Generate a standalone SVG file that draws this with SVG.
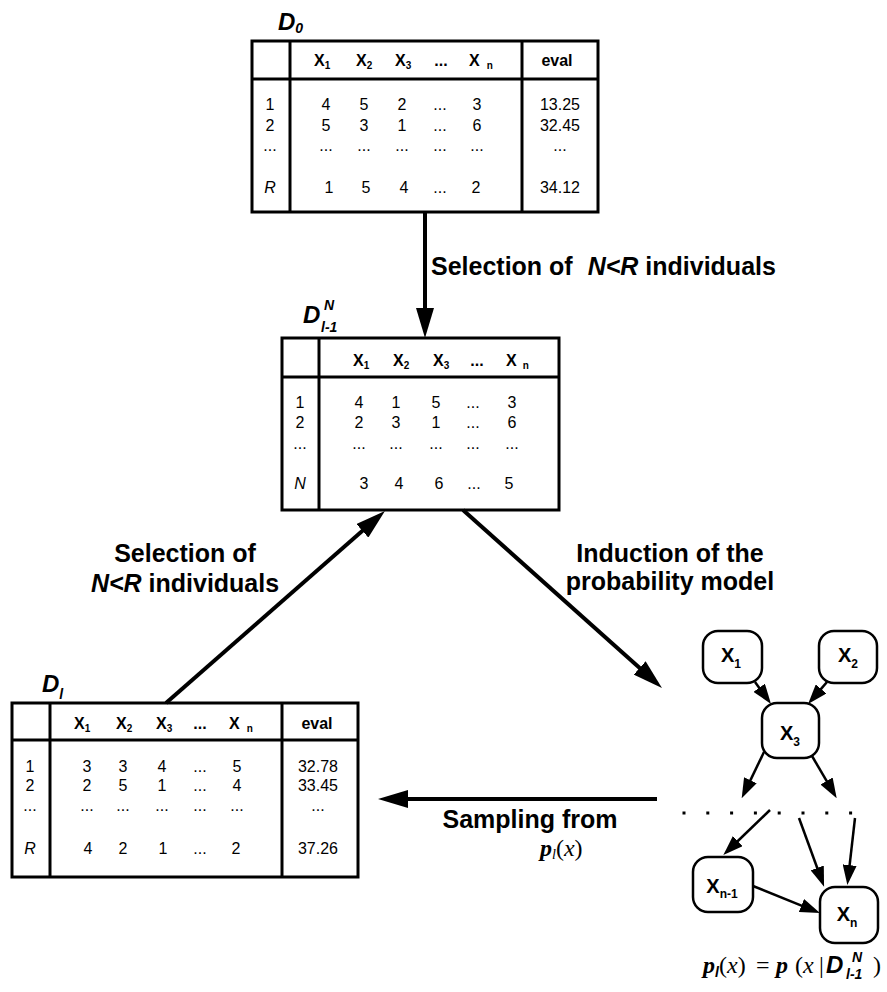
<svg xmlns="http://www.w3.org/2000/svg" width="887" height="992" viewBox="0 0 887 992">
<style>
.frame{fill:#fff;stroke:#000;stroke-width:3}
.rule{stroke:#000;stroke-width:3;fill:none}
.hx{font-family:"Liberation Sans",Arial,sans-serif;font-weight:bold;font-size:16px}
.sub{font-size:10px}
.c{font-family:"Liberation Sans",Arial,sans-serif;font-size:16px;text-anchor:middle}
.hd{font-family:"Liberation Sans",Arial,sans-serif;font-weight:bold;font-size:16px;text-anchor:middle}
.it{font-style:italic}
.big{font-family:"Liberation Sans",Arial,sans-serif;font-weight:bold;font-size:25px}
.mid{text-anchor:middle}
.dl{font-family:"Liberation Sans",Arial,sans-serif;font-weight:bold;font-style:italic;font-size:24px}
.dls{font-size:14px}
.conn{stroke:#000;stroke-width:4;fill:none}
.thin{stroke:#000;stroke-width:2.5;fill:none}
.node{fill:#fff;stroke:#000;stroke-width:2.5}
.nx{font-family:"Liberation Sans",Arial,sans-serif;font-weight:bold;font-size:20px;text-anchor:middle}
.nsub{font-size:12px}
.math{font-family:"Liberation Serif","Times New Roman",serif;font-size:24px}
.bp{font-weight:bold;font-style:italic}
.sd{font-family:"Liberation Sans",Arial,sans-serif;font-weight:bold;font-style:italic}
</style>
<defs>
<marker id="big" viewBox="0 0 30 18" refX="2" refY="9" markerWidth="30" markerHeight="18" markerUnits="userSpaceOnUse" orient="auto">
<path d="M0,0 L30,9 L0,18 z" fill="#000"/>
</marker>
<marker id="small" viewBox="0 0 20 14" refX="2" refY="7" markerWidth="20" markerHeight="14" markerUnits="userSpaceOnUse" orient="auto">
<path d="M0,0 L20,7 L0,14 z" fill="#000"/>
</marker>
</defs>
<rect width="887" height="992" fill="#fff"/>

<!-- D0 table -->
<g id="node-D0">
<rect class="frame" x="252" y="41" width="346" height="171"/>
<line class="rule" x1="290" y1="41" x2="290" y2="212"/>
<line class="rule" x1="522" y1="41" x2="522" y2="212"/>
<line class="rule" x1="252" y1="79" x2="598" y2="79"/>
<text class="dl" x="278" y="30">D<tspan class="dls" dy="3">0</tspan></text>
<text class="hx" x="314" y="66">X<tspan class="sub" dy="3">1</tspan></text>
<text class="hx" x="356" y="66">X<tspan class="sub" dy="3">2</tspan></text>
<text class="hx" x="395" y="66">X<tspan class="sub" dy="3">3</tspan></text>
<text class="hd" x="441" y="66">...</text>
<text class="hx" x="469" y="66">X<tspan class="sub" dx="7" dy="3">n</tspan></text>
<text class="hd" x="557" y="66">eval</text>
<g class="c">
<text x="270" y="110">1</text><text x="326" y="110">4</text><text x="364" y="110">5</text><text x="402" y="110">2</text><text x="440" y="110">...</text><text x="477" y="110">3</text><text x="560" y="110">13.25</text>
<text x="270" y="131">2</text><text x="326" y="131">5</text><text x="364" y="131">3</text><text x="402" y="131">1</text><text x="440" y="131">...</text><text x="477" y="131">6</text><text x="560" y="131">32.45</text>
<text x="270" y="151">...</text><text x="326" y="151">...</text><text x="364" y="151">...</text><text x="402" y="151">...</text><text x="440" y="151">...</text><text x="477" y="151">...</text><text x="560" y="151">...</text>
<text x="270" y="193" class="it">R</text><text x="329" y="193">1</text><text x="366" y="193">5</text><text x="404" y="193">4</text><text x="440" y="193">...</text><text x="476" y="193">2</text><text x="560" y="193">34.12</text>
</g>
</g>

<!-- D_{l-1}^N table -->
<g id="node-DN">
<rect class="frame" x="282" y="338" width="277" height="172"/>
<line class="rule" x1="319" y1="338" x2="319" y2="510"/>
<line class="rule" x1="282" y1="377" x2="559" y2="377"/>
<text class="dl" x="303" y="323">D</text>
<text class="dl dls" x="321" y="332">l-1</text>
<text class="dl dls" x="324" y="310">N</text>
<text class="hx" x="353" y="366">X<tspan class="sub" dy="3">1</tspan></text>
<text class="hx" x="393" y="366">X<tspan class="sub" dy="3">2</tspan></text>
<text class="hx" x="433" y="366">X<tspan class="sub" dy="3">3</tspan></text>
<text class="hd" x="477" y="366">...</text>
<text class="hx" x="506" y="366">X<tspan class="sub" dx="6" dy="3">n</tspan></text>
<g class="c">
<text x="300" y="408">1</text><text x="359" y="408">4</text><text x="396" y="408">1</text><text x="436" y="408">5</text><text x="473" y="408">...</text><text x="512" y="408">3</text>
<text x="300" y="428">2</text><text x="359" y="428">2</text><text x="396" y="428">3</text><text x="436" y="428">1</text><text x="473" y="428">...</text><text x="512" y="428">6</text>
<text x="300" y="449">...</text><text x="359" y="449">...</text><text x="396" y="449">...</text><text x="436" y="449">...</text><text x="473" y="449">...</text><text x="512" y="449">...</text>
<text x="300" y="489" class="it">N</text><text x="364" y="489">3</text><text x="399" y="489">4</text><text x="439" y="489">6</text><text x="474" y="489">...</text><text x="509" y="489">5</text>
</g>
</g>

<!-- D_l table -->
<g id="node-Dl">
<rect class="frame" x="12" y="703" width="346" height="174"/>
<line class="rule" x1="50" y1="703" x2="50" y2="877"/>
<line class="rule" x1="282" y1="703" x2="282" y2="877"/>
<line class="rule" x1="12" y1="740" x2="358" y2="740"/>
<text class="dl" x="42" y="692">D<tspan class="dls" dy="7">l</tspan></text>
<text class="hx" x="74" y="729">X<tspan class="sub" dy="3">1</tspan></text>
<text class="hx" x="116" y="729">X<tspan class="sub" dy="3">2</tspan></text>
<text class="hx" x="156" y="729">X<tspan class="sub" dy="3">3</tspan></text>
<text class="hd" x="200" y="729">...</text>
<text class="hx" x="229" y="729">X<tspan class="sub" dx="7" dy="3">n</tspan></text>
<text class="hd" x="317" y="729">eval</text>
<g class="c">
<text x="30" y="772">1</text><text x="87" y="772">3</text><text x="123" y="772">3</text><text x="162" y="772">4</text><text x="200" y="772">...</text><text x="237" y="772">5</text><text x="318" y="772">32.78</text>
<text x="30" y="791">2</text><text x="87" y="791">2</text><text x="123" y="791">5</text><text x="162" y="791">1</text><text x="200" y="791">...</text><text x="237" y="791">4</text><text x="318" y="791">33.45</text>
<text x="30" y="811">...</text><text x="87" y="811">...</text><text x="123" y="811">...</text><text x="162" y="811">...</text><text x="200" y="811">...</text><text x="237" y="811">...</text><text x="318" y="811">...</text>
<text x="30" y="854" class="it">R</text><text x="88" y="854">4</text><text x="123" y="854">2</text><text x="163" y="854">1</text><text x="200" y="854">...</text><text x="236" y="854">2</text><text x="318" y="854">37.26</text>
</g>
</g>

<!-- Bayesian network nodes -->
<g id="node-X1"><rect class="node" x="703" y="631" width="59" height="52" rx="15"/><text class="nx" x="731" y="662">X<tspan class="nsub" dy="6">1</tspan></text></g>
<g id="node-X2"><rect class="node" x="819" y="631" width="58" height="52" rx="15"/><text class="nx" x="848" y="662">X<tspan class="nsub" dy="6">2</tspan></text></g>
<g id="node-X3"><rect class="node" x="762" y="703" width="57" height="55" rx="15"/><text class="nx" x="790" y="740">X<tspan class="nsub" dy="6">3</tspan></text></g>
<g id="node-Xn-1"><rect class="node" x="693" y="857" width="60" height="55" rx="15"/><text class="nx" x="722" y="893">X<tspan class="nsub" dy="5">n-1</tspan></text></g>
<g id="node-Xn"><rect class="node" x="820" y="887" width="58" height="56" rx="15"/><text class="nx" x="847" y="921">X<tspan class="nsub" dy="6">n</tspan></text></g>

<!-- connectors -->
<g id="connectors">
<line class="conn" x1="425" y1="212" x2="425" y2="310" marker-end="url(#big)"/>
<line class="conn" x1="166" y1="703" x2="363.9" y2="529.5" marker-end="url(#big)"/>
<line class="conn" x1="463" y1="510" x2="641.1" y2="669.3" marker-end="url(#big)"/>
<line class="conn" x1="657" y1="799" x2="406" y2="799" marker-end="url(#big)"/>
<line class="thin" x1="755" y1="682" x2="760.4" y2="689.4" marker-end="url(#small)"/>
<line class="thin" x1="827" y1="682" x2="819.8" y2="690.4" marker-end="url(#small)"/>
<line class="thin" x1="764" y1="752" x2="749.5" y2="782.1" marker-end="url(#small)"/>
<line class="thin" x1="812" y1="756" x2="827.6" y2="782.7" marker-end="url(#small)"/>
<line class="thin" x1="770" y1="810" x2="736.3" y2="842.5" marker-end="url(#small)"/>
<line class="thin" x1="799" y1="818" x2="817.9" y2="869.8" marker-end="url(#small)"/>
<line class="thin" x1="855" y1="818" x2="849.4" y2="867.1" marker-end="url(#small)"/>
<line class="thin" x1="753" y1="886" x2="803.3" y2="906.3" marker-end="url(#small)"/>
<line x1="682.5" y1="813" x2="855" y2="813" stroke="#000" stroke-width="3" stroke-dasharray="3 20.8"/>
</g>

<!-- labels -->
<g id="labels">
<text class="big" x="431" y="275">Selection of <tspan class="it" dx="8">N&lt;R</tspan> individuals</text>
<text class="big mid" x="185" y="562">Selection of</text>
<text class="big mid" x="185" y="592"><tspan class="it">N&lt;R</tspan> individuals</text>
<text class="big mid" x="670" y="562">Induction of the</text>
<text class="big mid" x="670" y="590">probability model</text>
<text class="big mid" x="530" y="828">Sampling from</text>
<text class="math" x="540" y="856" font-size="23"><tspan class="bp">p</tspan><tspan dy="3" font-size="14" class="it">l</tspan><tspan dy="-3">(</tspan><tspan class="it">x</tspan>)</text>
<text class="math" y="973"><tspan x="703" class="bp">p</tspan><tspan class="sd" font-size="14" dy="4">l</tspan><tspan x="719" dy="-4">(</tspan><tspan class="it">x</tspan>)<tspan x="756">=</tspan><tspan x="776" class="bp">p</tspan><tspan x="795">(</tspan><tspan class="it">x</tspan><tspan x="819">|</tspan><tspan x="826" class="sd">D</tspan><tspan x="846" dy="6" class="sd" font-size="14">l-1</tspan><tspan x="852" dy="-17" class="sd" font-size="14">N</tspan><tspan x="873" dy="11">)</tspan></text>
</g>
</svg>
